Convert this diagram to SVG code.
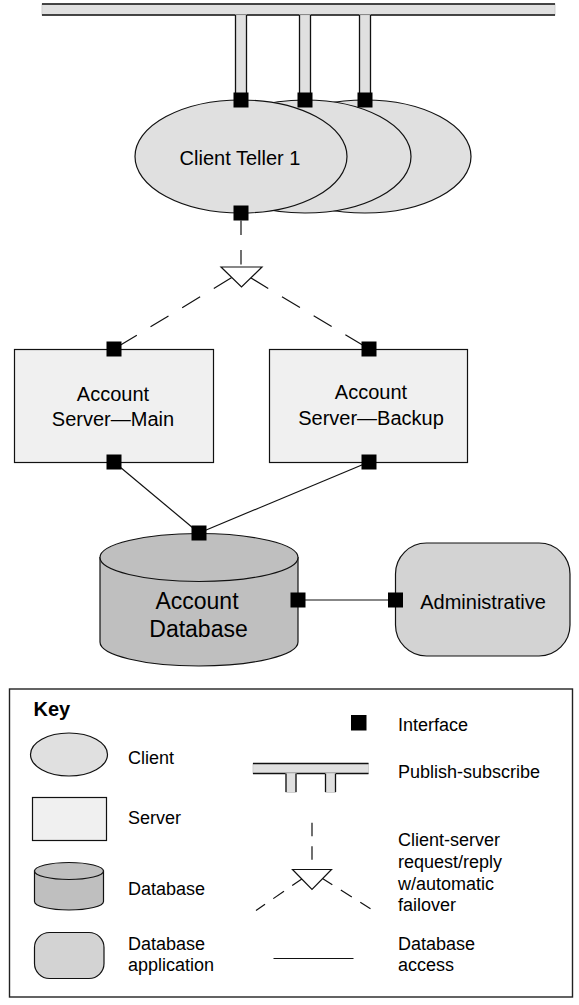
<svg xmlns="http://www.w3.org/2000/svg" width="579" height="1005" viewBox="0 0 579 1005">
<style>
text{font-family:"Liberation Sans",Arial,Helvetica,sans-serif;fill:#000}
.t20{font-size:20px}
.t23{font-size:23px}
.k{font-size:18px}
.sh{stroke:#111;stroke-width:1.2}
.cl{fill:#e0e0e0}
.sv{fill:#f0f0f0}
.db{fill:#bfbfbf}
.ap{fill:#d3d3d3}
.port{fill:#000}
.ln{stroke:#111;stroke-width:1.2;fill:none}
.edge{stroke:#111;stroke-width:1.3}
.bar{fill:#e0e0e0;stroke:#cfcfcf;stroke-width:1}
</style>
<rect width="579" height="1005" fill="#fff"/>

<g id="pubsub-bus">
  <rect class="bar" x="42" y="4" width="513" height="11"/>
  <line class="edge" x1="42" y1="4" x2="555" y2="4"/>
  <line class="edge" x1="42" y1="15" x2="555" y2="15"/>
  <rect class="bar" x="235.5" y="15" width="11" height="80"/>
  <line class="edge" x1="235.5" y1="15" x2="235.5" y2="95"/>
  <line class="edge" x1="246.5" y1="15" x2="246.5" y2="95"/>
  <rect class="bar" x="299.5" y="15" width="11" height="80"/>
  <line class="edge" x1="299.5" y1="15" x2="299.5" y2="95"/>
  <line class="edge" x1="310.5" y1="15" x2="310.5" y2="95"/>
  <rect class="bar" x="359.5" y="15" width="11" height="80"/>
  <line class="edge" x1="359.5" y1="15" x2="359.5" y2="95"/>
  <line class="edge" x1="370.5" y1="15" x2="370.5" y2="95"/>
</g>

<g id="connectors">
  <path class="ln" d="M241,220.5 V267" stroke-dasharray="14.5,15"/>
  <path class="ln" d="M241,272 L114,349" stroke-dasharray="21,16" stroke-dashoffset="26.2"/>
  <path class="ln" d="M241,272 L369,349" stroke-dasharray="21,16" stroke-dashoffset="26.2"/>
  <polygon points="221,267 262,267 241.5,287" fill="#fff" stroke="#111" stroke-width="1.2"/>
  <line class="ln" x1="114" y1="462" x2="199" y2="533"/>
  <line class="ln" x1="369" y1="462" x2="199" y2="533"/>
  <line class="ln" x1="298" y1="600" x2="395.5" y2="600"/>
</g>

<g id="client-teller-3">
  <ellipse class="cl sh" cx="365" cy="156.5" rx="106" ry="56.5"/>
</g>
<g id="client-teller-2">
  <ellipse class="cl sh" cx="305" cy="156.5" rx="106" ry="56.5"/>
</g>
<g id="client-teller-1">
  <ellipse class="cl sh" cx="241" cy="156.5" rx="106" ry="56.5"/>
  <text class="t20" x="240" y="165" text-anchor="middle">Client Teller 1</text>
  <rect class="port" x="233.5" y="205.5" width="15" height="15"/>
</g>
<g id="client-ports">
  <rect class="port" x="233.5" y="92.5" width="15" height="15"/>
  <rect class="port" x="297.5" y="92.5" width="15" height="15"/>
  <rect class="port" x="357.5" y="92.5" width="15" height="15"/>
</g>

<g id="account-server-main">
  <rect class="sv sh" x="14.5" y="349.5" width="199" height="113"/>
  <text class="t20" x="113" y="400.5" text-anchor="middle">Account</text>
  <text class="t20" x="113" y="426" text-anchor="middle">Server—Main</text>
  <rect class="port" x="106.5" y="341.5" width="15" height="15"/>
  <rect class="port" x="106.5" y="454.5" width="15" height="15"/>
</g>

<g id="account-server-backup">
  <rect class="sv sh" x="269.5" y="349.5" width="198" height="113"/>
  <text class="t20" x="371" y="399" text-anchor="middle">Account</text>
  <text class="t20" x="371" y="424.5" text-anchor="middle">Server—Backup</text>
  <rect class="port" x="361.5" y="341.5" width="15" height="15"/>
  <rect class="port" x="361.5" y="454.5" width="15" height="15"/>
</g>

<g id="account-database">
  <path class="db sh" d="M100,557.5 V642 A99,24 0 0 0 298,642 V557.5 Z"/>
  <ellipse class="db sh" cx="199" cy="557.5" rx="99" ry="24"/>
  <text class="t23" x="197" y="609" text-anchor="middle">Account</text>
  <text class="t23" x="198.5" y="637" text-anchor="middle">Database</text>
  <rect class="port" x="191.5" y="525.5" width="15" height="15"/>
  <rect class="port" x="290.5" y="592.5" width="15" height="15"/>
</g>

<g id="administrative">
  <rect class="ap sh" x="395.5" y="543" width="174.5" height="113" rx="31" ry="31"/>
  <text class="t20" x="483" y="609" text-anchor="middle">Administrative</text>
  <rect class="port" x="388" y="592.5" width="15" height="15"/>
</g>

<g id="key">
  <rect x="9.5" y="689" width="563" height="308" fill="none" stroke="#222" stroke-width="1.4"/>
  <text x="33.5" y="716" font-size="20" font-weight="bold">Key</text>
  <ellipse class="cl sh" cx="69" cy="754.5" rx="38.5" ry="21.5"/>
  <text class="k" x="128" y="763.5">Client</text>
  <rect class="sv sh" x="32.5" y="797.5" width="74" height="43"/>
  <text class="k" x="128" y="824">Server</text>
  <path class="db sh" d="M34.5,871 V901.5 A34.5,8.5 0 0 0 103.5,901.5 V871 Z"/>
  <ellipse class="db sh" cx="69" cy="871" rx="34.5" ry="8.5"/>
  <text class="k" x="128" y="894.5">Database</text>
  <rect class="ap sh" x="34.5" y="932.5" width="69.5" height="46" rx="15" ry="15"/>
  <text class="k" x="128" y="949.5">Database</text>
  <text class="k" x="128" y="971">application</text>

  <rect class="port" x="351" y="715" width="15.5" height="15.5"/>
  <text class="k" x="398" y="731">Interface</text>

  <rect class="bar" x="253" y="763.5" width="115.5" height="10"/>
  <line class="edge" x1="253" y1="763.5" x2="368.5" y2="763.5"/>
  <line class="edge" x1="253" y1="773.5" x2="368.5" y2="773.5"/>
  <rect class="bar" x="286" y="773.5" width="10" height="19"/>
  <line class="edge" x1="286" y1="773.5" x2="286" y2="792"/>
  <line class="edge" x1="296" y1="773.5" x2="296" y2="792"/>
  <rect class="bar" x="325.5" y="773.5" width="10" height="19"/>
  <line class="edge" x1="325.5" y1="773.5" x2="325.5" y2="792"/>
  <line class="edge" x1="335.5" y1="773.5" x2="335.5" y2="792"/>
  <text class="k" x="398" y="778">Publish-subscribe</text>

  <path class="ln" d="M312,822.7 V869.5" stroke-dasharray="13.5,10"/>
  <path class="ln" d="M312,872 L256,910.5" stroke-dasharray="13,10" stroke-dashoffset="12"/>
  <path class="ln" d="M312,872 L370.5,908.7" stroke-dasharray="13,10" stroke-dashoffset="12"/>
  <polygon points="292.5,869.5 331.5,869.5 312,889.5" fill="#fff" stroke="#111" stroke-width="1.2"/>
  <text class="k" x="398" y="845.5">Client-server</text>
  <text class="k" x="398" y="867.5">request/reply</text>
  <text class="k" x="398" y="889.5">w/automatic</text>
  <text class="k" x="398" y="911">failover</text>

  <line class="ln" x1="273.5" y1="958.5" x2="353.5" y2="958.5"/>
  <text class="k" x="398" y="949.5">Database</text>
  <text class="k" x="398" y="971">access</text>
</g>
</svg>
